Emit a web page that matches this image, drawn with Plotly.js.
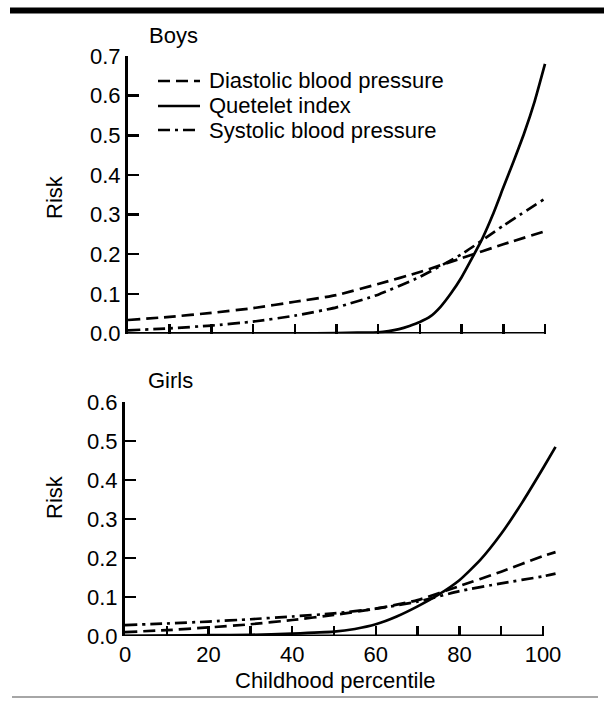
<!DOCTYPE html>
<html><head><meta charset="utf-8">
<script src="https://cdn.plot.ly/plotly-3.0.1.min.js"></script>
<style>html,body{margin:0;padding:0;background:#fff}#chart{width:604px;height:707px}</style>
</head><body><div id="chart"></div><script>
// ---- data ----
const seriesNames = ['Diastolic blood pressure', 'Quetelet index', 'Systolic blood pressure'];
const panelTitles = ['Boys', 'Girls'];
const xTitle = 'Childhood percentile';
const yTitle = 'Risk';

const boysBpX = [0, 10, 20, 30, 40, 50, 60, 70, 80, 90, 100];
const boysDiastolic = [0.034, 0.042, 0.052, 0.064, 0.080, 0.097, 0.125, 0.155, 0.190, 0.225, 0.258];
const boysSystolic = [0.008, 0.013, 0.020, 0.030, 0.045, 0.066, 0.098, 0.143, 0.200, 0.272, 0.340];
const boysQueteletX = [0, 10, 20, 30, 40, 50, 55, 60, 62.5, 65, 67.5, 70, 72.5, 75, 77.5, 80, 82.5, 85, 87.5, 90, 92.5, 95, 97.5, 100];
const boysQuetelet = [0, 0, 0, 0, 0, 0.001, 0.002, 0.003, 0.006, 0.011, 0.019, 0.029, 0.043, 0.068, 0.102, 0.142, 0.190, 0.240, 0.300, 0.368, 0.435, 0.505, 0.585, 0.680];

const girlsBpX = [0, 10, 20, 30, 40, 50, 60, 70, 80, 90, 100, 103];
const girlsDiastolic = [0.010, 0.015, 0.022, 0.030, 0.041, 0.054, 0.070, 0.092, 0.128, 0.165, 0.205, 0.215];
const girlsSystolic = [0.028, 0.032, 0.037, 0.043, 0.050, 0.058, 0.070, 0.088, 0.115, 0.135, 0.153, 0.160];
const girlsQueteletX = [0, 10, 20, 30, 40, 50, 55, 60, 65, 70, 75, 80, 85, 90, 95, 100, 103];
const girlsQuetelet = [0, 0.001, 0.002, 0.003, 0.006, 0.011, 0.018, 0.030, 0.050, 0.076, 0.106, 0.143, 0.195, 0.262, 0.342, 0.430, 0.485];

const xTickVals = [0, 10, 20, 30, 40, 50, 60, 70, 80, 90, 100];
const xTickText = ['0', '', '20', '', '40', '', '60', '', '80', '', '100'];
const boysYTicks = [0, 0.1, 0.2, 0.3, 0.4, 0.5, 0.6, 0.7];
const girlsYTicks = [0, 0.1, 0.2, 0.3, 0.4, 0.5, 0.6];

// ---- styling ----
const W = 604, H = 707;
const FONT = 'Liberation Sans, Arial, Helvetica, sans-serif';
const px = x => x / W;
const py = y => 1 - y / H;
const dashes = ['12px,6px', 'solid', '12px,5px,3px,5px'];
const LW = 2.7;

function tr(x, y, i, xa, ya) {
  return {x: x, y: y, type: 'scatter', mode: 'lines', name: seriesNames[i],
    xaxis: xa, yaxis: ya, showlegend: false, hoverinfo: 'skip',
    line: {color: '#000', width: LW, dash: dashes[i], shape: 'spline', smoothing: 0.5}};
}

const data = [
  tr(boysBpX, boysDiastolic, 0, 'x', 'y'),
  tr(boysQueteletX, boysQuetelet, 1, 'x', 'y'),
  tr(boysBpX, boysSystolic, 2, 'x', 'y'),
  tr(girlsBpX, girlsDiastolic, 0, 'x2', 'y2'),
  tr(girlsQueteletX, girlsQuetelet, 1, 'x2', 'y2'),
  tr(girlsBpX, girlsSystolic, 2, 'x2', 'y2')
];

const XR = 103.5;
function xax(left, unit, anchor, labels) {
  return {domain: [px(left), px(left + unit * XR)], range: [0, XR], anchor: anchor,
    showgrid: false, zeroline: false, showline: false,
    tickmode: 'array', tickvals: xTickVals, ticktext: xTickText, showticklabels: labels,
    ticks: 'inside', ticklen: 10, tickwidth: 2.5, tickcolor: '#000', ticklabelstandoff: 3,
    tickfont: {family: FONT, size: 22, color: '#000'}, fixedrange: true};
}
function yax(bottom, top, maxv, ticks, anchor) {
  return {domain: [py(bottom), py(top)], range: [0, maxv], anchor: anchor,
    showgrid: false, zeroline: false, showline: true, linewidth: 3, linecolor: '#000',
    tickmode: 'array', tickvals: ticks, tickformat: '.1f',
    ticks: 'inside', ticklen: 11, tickwidth: 2.5, tickcolor: '#000',
    tickfont: {family: FONT, size: 22, color: '#000'}, fixedrange: true};
}

const shapes = [
  {type: 'line', xref: 'x', yref: 'y', x0: 0, x1: 100, y0: 0, y1: 0, line: {color: '#000', width: 3}},
  {type: 'line', xref: 'x2', yref: 'y2', x0: 0, x1: 100, y0: 0, y1: 0, line: {color: '#000', width: 3}},
  {type: 'rect', xref: 'paper', yref: 'paper', x0: px(10), x1: 1, y0: py(13.5), y1: py(7.5), fillcolor: '#000', line: {width: 0}},
  {type: 'line', xref: 'paper', yref: 'paper', x0: px(12), x1: px(598), y0: py(697), y1: py(697), line: {color: '#888', width: 1.5}}
];
const annotations = [
  {text: panelTitles[0], x: px(147), y: py(36), xanchor: 'left', yanchor: 'middle'},
  {text: panelTitles[1], x: px(146), y: py(381), xanchor: 'left', yanchor: 'middle'},
  {text: yTitle, x: px(55), y: py(197), xanchor: 'center', yanchor: 'middle', textangle: -90},
  {text: yTitle, x: px(55), y: py(497), xanchor: 'center', yanchor: 'middle', textangle: -90},
  {text: xTitle, x: px(335), y: py(680), xanchor: 'center', yanchor: 'middle'}
];
const legendRows = [81, 106, 130];
seriesNames.forEach((n, i) => {
  shapes.push({type: 'line', xref: 'paper', yref: 'paper', x0: px(158), x1: px(200),
    y0: py(legendRows[i]), y1: py(legendRows[i]), line: {color: '#000', width: LW, dash: dashes[i]}});
  annotations.push({text: n, x: px(207), y: py(legendRows[i]), xanchor: 'left', yanchor: 'middle'});
});
annotations.forEach(a => { a.xref = 'paper'; a.yref = 'paper'; a.showarrow = false;
  a.font = {family: FONT, size: 22, color: '#000'}; });

const layout = {
  width: W, height: H, margin: {l: 0, r: 0, t: 0, b: 0},
  paper_bgcolor: '#fff', plot_bgcolor: '#fff', showlegend: false,
  font: {family: FONT, color: '#000'},
  xaxis: xax(128, 4.17, 'y', false),
  yaxis: yax(333.5, 56, 0.7, boysYTicks, 'x'),
  xaxis2: xax(125, 4.18, 'y2', true),
  yaxis2: yax(636, 402, 0.6, girlsYTicks, 'x2'),
  shapes: shapes, annotations: annotations
};
Plotly.newPlot('chart', data, layout, {displayModeBar: false, staticPlot: true});
</script></body></html>
